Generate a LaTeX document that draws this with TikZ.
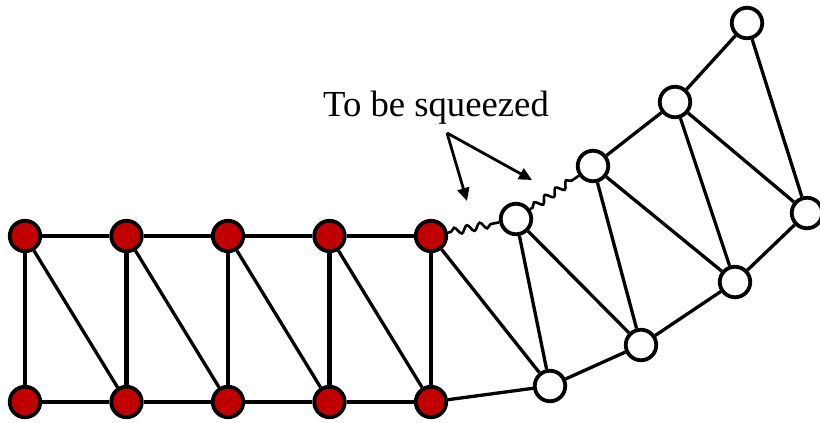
\documentclass[tikz,border=0pt]{standalone}
\usepackage{fontspec}
\setmainfont{Liberation Serif}
\usetikzlibrary{decorations.pathmorphing,arrows.meta}
\definecolor{nodered}{RGB}{192,0,0}
\begin{document}
\begin{tikzpicture}[x=1pt,y=-1pt,
  vert/.style={circle,draw,line width=3.8pt,minimum size=30.5pt,inner sep=0pt},
  fixed/.style={vert,fill=nodered},
  free/.style={vert,fill=white},
  gridline/.style={line width=4.2pt},
  link/.style={line width=3.3pt},
  spring/.style={line width=2.6pt,decorate,
    decoration={snake,amplitude=3.5pt,segment length=13pt,pre length=3pt,post length=3pt}},
  pointer/.style={line width=2.8pt,-{Triangle[length=13pt,width=12pt]}}]
\useasboundingbox (0,0) rectangle (820,423);

% fixed (red) strip
\foreach \i/\x in {1/25,2/126.5,3/228,4/329.5,5/431} {
  \node[fixed] (t\i) at (\x,236) {};
  \node[fixed] (b\i) at (\x,402) {};
}

% free (white) part
\node[free] (a) at (516,219) {};
\node[free] (bb) at (593,166) {};
\node[free] (c) at (550,386) {};
\node[free] (d) at (641,345) {};
\node[free] (e) at (735,282) {};
\node[free] (f) at (675,102) {};
\node[free] (top) at (747,23) {};
\node[free] (g) at (807,213) {};

% strip edges
\foreach \i/\j in {1/2,2/3,3/4,4/5} {
  \draw[gridline] (t\i) -- (t\j);
  \draw[gridline] (b\i) -- (b\j);
  \draw[link] (t\i) -- (b\j);
}
\foreach \i in {1,...,5} \draw[gridline] (t\i) -- (b\i);

% mesh edges
\draw[link] (t5) -- (c);
\draw[link] (b5) -- (c);
\foreach \u/\v in {a/c,a/d,bb/d,bb/e,bb/f,f/e,f/g,f/top,top/g,g/e,e/d,d/c}
  \draw[link] (\u) -- (\v);

% springs
\draw[spring] (t5) -- (a);
\draw[spring] (a) -- (bb);

% label with pointers
\node[font=\fontsize{36.7}{40}\selectfont,anchor=base] (lbl) at (436,116) {To be squeezed};
\coordinate (fork) at (447,133);
\coordinate (tipL) at (467,201);
\coordinate (tipR) at (532,180);
\draw[pointer] (fork) -- (tipL);
\draw[pointer] (fork) -- (tipR);
\end{tikzpicture}
\end{document}
